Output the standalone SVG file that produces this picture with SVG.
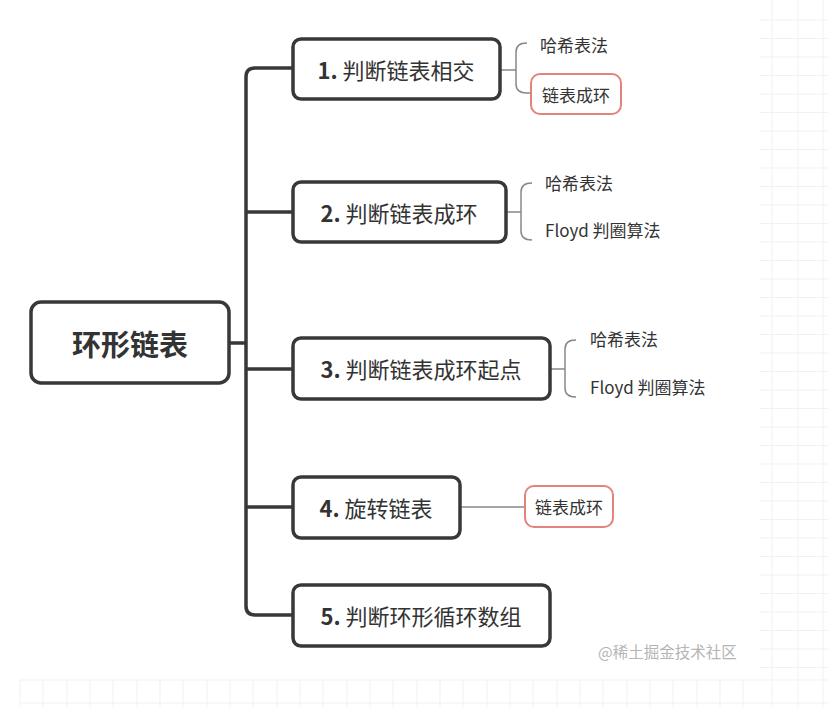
<svg xmlns="http://www.w3.org/2000/svg" width="828" height="707" viewBox="0 0 828 707">
<defs>
<style>
.node rect{fill:#fff;stroke:#383838;stroke-width:3.5}
.sub rect{fill:#fff;stroke:#e3837b;stroke-width:2}
.t{font-family:"Noto Sans CJK SC","Liberation Sans",sans-serif;fill:#333;dominant-baseline:central}
.main{font-size:22px;text-anchor:middle}
.num{font-weight:bold}
.leaf{font-size:17px}
.trunk{fill:none;stroke:#383838;stroke-width:3.5}
.thin{fill:none;stroke:#888;stroke-width:1.5}
.grid{stroke:#f1f1f1;stroke-width:1}
</style>
</defs>
<rect width="828" height="707" fill="#fff"/>
<g id="grid">
<path class="grid" d="M772 0V707M798 0V707M823 0V707M760 20H828M760 38.5H828M760 57H828M760 75.5H828M760 94H828M760 112.5H828M760 131H828M760 149.5H828M760 168H828M760 186.5H828M760 205H828M760 223.5H828M760 242H828M760 260.5H828M760 279H828M760 297.5H828M760 316H828M760 334.5H828M760 353H828M760 371.5H828M760 390H828M760 408.5H828M760 427H828M760 445.5H828M760 464H828M760 482.5H828M760 501H828M760 519.5H828M760 538H828M760 556.5H828M760 575H828M760 593.5H828M760 612H828M760 630.5H828M760 649H828M760 667.5H828M20 680H828M20 703H828M20 680V707M43 680V707M67 680V707M90 680V707M113 680V707M137 680V707M160 680V707M183 680V707M207 680V707M230 680V707M253 680V707M277 680V707M300 680V707M323 680V707M347 680V707M370 680V707M393 680V707M417 680V707M440 680V707M463 680V707M487 680V707M510 680V707M533 680V707M557 680V707M580 680V707M603 680V707M627 680V707M650 680V707M673 680V707M697 680V707M720 680V707M743 680V707"/>
</g>
<g id="connectors">
<path class="trunk" d="M229 343H246"/>
<path class="trunk" d="M293 68H255Q246 68 246 77V606Q246 615 255 615H293"/>
<path class="trunk" d="M246 212H293M246 369H293M246 507H293"/>
<path class="thin" d="M500 70H516M527 43Q516 43 516 52V84Q516 93 527 93H531"/>
<path class="thin" d="M506 212H521M532 183Q521 183 521 192V231Q521 240 532 240"/>
<path class="thin" d="M550 369H565M576 340Q565 340 565 349V388Q565 397 576 397"/>
<path class="thin" d="M460 507H525"/>
</g>
<g id="root" class="node">
<rect x="31" y="302" width="198" height="81" rx="10"/>
<text class="t" x="130" y="343" font-size="29" font-weight="bold" text-anchor="middle">环形链表</text>
</g>
<g id="n1" class="node">
<rect x="293" y="39" width="207" height="60" rx="8"/>
<text class="t main" x="396" y="69"><tspan class="num">1.</tspan> 判断链表相交</text>
</g>
<g id="n2" class="node">
<rect x="293" y="182" width="213" height="60" rx="8"/>
<text class="t main" x="399" y="212"><tspan class="num">2.</tspan> 判断链表成环</text>
</g>
<g id="n3" class="node">
<rect x="293" y="338" width="257" height="61" rx="8"/>
<text class="t main" x="421" y="368"><tspan class="num">3.</tspan> 判断链表成环起点</text>
</g>
<g id="n4" class="node">
<rect x="293" y="477" width="167" height="61" rx="8"/>
<text class="t main" x="376" y="507"><tspan class="num">4.</tspan> 旋转链表</text>
</g>
<g id="n5" class="node">
<rect x="293" y="585" width="257" height="61" rx="8"/>
<text class="t main" x="421" y="615"><tspan class="num">5.</tspan> 判断环形循环数组</text>
</g>
<g id="n1a"><text class="t leaf" x="540" y="44">哈希表法</text></g>
<g id="n1b" class="sub">
<rect x="531" y="74" width="90" height="40" rx="9"/>
<text class="t leaf" x="576" y="94" text-anchor="middle">链表成环</text>
</g>
<g id="n2a"><text class="t leaf" x="545" y="182">哈希表法</text></g>
<g id="n2b"><text class="t leaf" x="545" y="229">Floyd 判圈算法</text></g>
<g id="n3a"><text class="t leaf" x="590" y="338">哈希表法</text></g>
<g id="n3b"><text class="t leaf" x="590" y="386">Floyd 判圈算法</text></g>
<g id="n4a" class="sub">
<rect x="525" y="486" width="88" height="41" rx="9"/>
<text class="t leaf" x="569" y="506" text-anchor="middle">链表成环</text>
</g>
<text class="t" x="598" y="651" font-size="15.5" style="fill:#b5b5b5">@稀土掘金技术社区</text>
</svg>
